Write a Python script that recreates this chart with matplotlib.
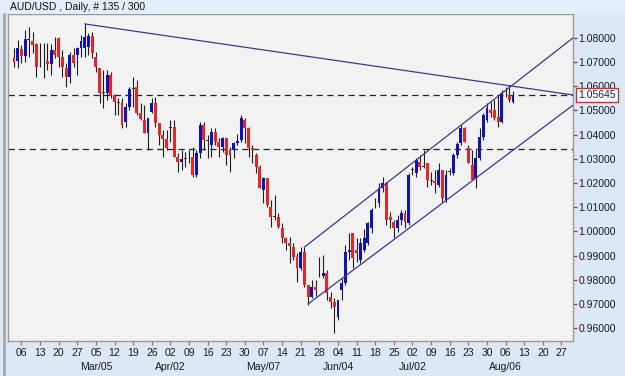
import matplotlib
matplotlib.use('Agg')
import matplotlib.pyplot as plt
import matplotlib.transforms as mtransforms
from matplotlib.lines import Line2D
from matplotlib.patches import Rectangle
import pandas as pd

plt.rcParams['font.family'] = ['Liberation Sans', 'DejaVu Sans']

chart_title = "AUD/USD , Daily, # 135 / 300"
first_day = "2012-02-02"
n_future = 16  # empty bars on the right

# daily OHLC
opens = [1.0721, 1.0705, 1.0754, 1.0726, 1.0796, 1.0788, 1.0775, 1.0709, 1.0701, 1.0705,
         1.0692, 1.0750, 1.0800, 1.0721, 1.0676, 1.0639, 1.0730, 1.0730, 1.0759, 1.0759,
         1.0763, 1.0808, 1.0721, 1.0676, 1.0572, 1.0572, 1.0647, 1.0564, 1.0535, 1.0535,
         1.0452, 1.0515, 1.0589, 1.0597, 1.0490, 1.0461, 1.0407, 1.0494, 1.0531, 1.0448,
         1.0399, 1.0382, 1.0428, 1.0432, 1.0308, 1.0287, 1.0299, 1.0304, 1.0308, 1.0233,
         1.0324, 1.0440, 1.0378, 1.0357, 1.0411, 1.0370, 1.0349, 1.0386, 1.0337, 1.0337,
         1.0366, 1.0378, 1.0461, 1.0428, 1.0345, 1.0316, 1.0266, 1.0171, 1.0221, 1.0101,
         1.0059, 1.0059, 1.0014, 0.9972, 0.9952, 0.9935, 0.9894, 0.9848, 0.9915, 0.9778,
         0.9729, 0.9770, 0.9820, 0.9815, 0.9828, 0.9729, 0.9708, 0.9646, 0.9757, 0.9786,
         0.9915, 0.9993, 0.9923, 0.9882, 0.9923, 0.9952, 1.0014, 1.0117, 1.0117, 1.0179,
         1.0200, 1.0059, 1.0039, 1.0014, 1.0047, 1.0076, 1.0035, 1.0254, 1.0242, 1.0287,
         1.0266, 1.0283, 1.0213, 1.0208, 1.0192, 1.0254, 1.0130, 1.0246, 1.0242, 1.0316,
         1.0366, 1.0428, 1.0345, 1.0275, 1.0221, 1.0304, 1.0390, 1.0461, 1.0502, 1.0502,
         1.0473, 1.0452, 1.0572, 1.0564, 1.0535]
highs = [1.0759, 1.0792, 1.0771, 1.0833, 1.0846, 1.0825, 1.0779, 1.0779, 1.0779, 1.0779,
         1.0775, 1.0804, 1.0804, 1.0750, 1.0697, 1.0742, 1.0759, 1.0763, 1.0812, 1.0858,
         1.0821, 1.0825, 1.0742, 1.0676, 1.0668, 1.0668, 1.0659, 1.0568, 1.0552, 1.0552,
         1.0531, 1.0597, 1.0639, 1.0626, 1.0531, 1.0523, 1.0469, 1.0552, 1.0556, 1.0448,
         1.0419, 1.0419, 1.0461, 1.0461, 1.0324, 1.0337, 1.0328, 1.0337, 1.0349, 1.0337,
         1.0452, 1.0452, 1.0399, 1.0428, 1.0428, 1.0386, 1.0390, 1.0386, 1.0349, 1.0370,
         1.0403, 1.0481, 1.0469, 1.0432, 1.0357, 1.0324, 1.0275, 1.0225, 1.0221, 1.0130,
         1.0150, 1.0076, 1.0035, 0.9977, 0.9977, 0.9952, 0.9911, 0.9935, 0.9935, 0.9778,
         0.9799, 0.9799, 0.9894, 0.9902, 0.9840, 0.9749, 0.9724, 0.9716, 0.9807, 0.9944,
         0.9993, 0.9993, 0.9972, 0.9972, 1.0010, 1.0039, 1.0097, 1.0138, 1.0200, 1.0225,
         1.0204, 1.0080, 1.0047, 1.0068, 1.0088, 1.0088, 1.0242, 1.0266, 1.0304, 1.0316,
         1.0337, 1.0283, 1.0246, 1.0254, 1.0283, 1.0254, 1.0254, 1.0262, 1.0324, 1.0370,
         1.0440, 1.0432, 1.0357, 1.0337, 1.0337, 1.0428, 1.0490, 1.0531, 1.0535, 1.0544,
         1.0564, 1.0585, 1.0597, 1.0606, 1.0581]
lows = [1.0680, 1.0676, 1.0697, 1.0701, 1.0721, 1.0738, 1.0639, 1.0680, 1.0635, 1.0668,
        1.0647, 1.0717, 1.0680, 1.0639, 1.0597, 1.0614, 1.0680, 1.0647, 1.0721, 1.0721,
        1.0730, 1.0717, 1.0659, 1.0531, 1.0510, 1.0544, 1.0552, 1.0481, 1.0481, 1.0428,
        1.0432, 1.0502, 1.0515, 1.0481, 1.0461, 1.0407, 1.0337, 1.0490, 1.0432, 1.0357,
        1.0308, 1.0337, 1.0370, 1.0308, 1.0246, 1.0254, 1.0266, 1.0283, 1.0225, 1.0225,
        1.0304, 1.0337, 1.0304, 1.0308, 1.0357, 1.0308, 1.0328, 1.0275, 1.0246, 1.0304,
        1.0357, 1.0370, 1.0366, 1.0308, 1.0283, 1.0242, 1.0179, 1.0117, 1.0101, 1.0018,
        1.0047, 1.0014, 0.9952, 0.9923, 0.9869, 0.9882, 0.9791, 0.9840, 0.9770, 0.9695,
        0.9724, 0.9733, 0.9811, 0.9807, 0.9716, 0.9683, 0.9580, 0.9633, 0.9716, 0.9778,
        0.9882, 0.9848, 0.9873, 0.9869, 0.9915, 0.9944, 0.9993, 1.0097, 1.0101, 1.0163,
        1.0026, 1.0014, 0.9972, 0.9997, 1.0026, 1.0014, 1.0026, 1.0233, 1.0225, 1.0254,
        1.0262, 1.0184, 1.0192, 1.0159, 1.0184, 1.0122, 1.0122, 1.0233, 1.0233, 1.0304,
        1.0357, 1.0370, 1.0283, 1.0213, 1.0179, 1.0295, 1.0378, 1.0452, 1.0473, 1.0461,
        1.0432, 1.0448, 1.0556, 1.0535, 1.0531]
closes = [1.0701, 1.0759, 1.0726, 1.0796, 1.0792, 1.0771, 1.0680, 1.0707, 1.0699, 1.0692,
          1.0750, 1.0730, 1.0721, 1.0680, 1.0639, 1.0730, 1.0697, 1.0759, 1.0788, 1.0804,
          1.0808, 1.0738, 1.0680, 1.0572, 1.0577, 1.0647, 1.0564, 1.0535, 1.0531, 1.0440,
          1.0515, 1.0589, 1.0593, 1.0490, 1.0465, 1.0407, 1.0469, 1.0531, 1.0448, 1.0399,
          1.0382, 1.0345, 1.0432, 1.0308, 1.0287, 1.0299, 1.0302, 1.0303, 1.0233, 1.0324,
          1.0440, 1.0378, 1.0374, 1.0411, 1.0370, 1.0349, 1.0386, 1.0316, 1.0316, 1.0366,
          1.0374, 1.0469, 1.0428, 1.0345, 1.0337, 1.0266, 1.0179, 1.0221, 1.0109, 1.0059,
          1.0064, 1.0018, 0.9972, 0.9952, 0.9939, 0.9894, 0.9848, 0.9915, 0.9778, 0.9729,
          0.9770, 0.9757, 0.9818, 0.9828, 0.9745, 0.9708, 0.9687, 0.9716, 0.9786, 0.9915,
          0.9923, 0.9890, 0.9911, 0.9952, 0.9972, 1.0035, 1.0088, 1.0119, 1.0179, 1.0200,
          1.0047, 1.0047, 1.0014, 1.0047, 1.0076, 1.0039, 1.0233, 1.0256, 1.0295, 1.0266,
          1.0272, 1.0213, 1.0210, 1.0200, 1.0254, 1.0138, 1.0233, 1.0248, 1.0316, 1.0361,
          1.0428, 1.0370, 1.0283, 1.0213, 1.0304, 1.0390, 1.0481, 1.0510, 1.0490, 1.0469,
          1.0452, 1.0572, 1.0574, 1.0544, 1.05645]

price_ticks = [0.96, 0.97, 0.98, 0.99, 1.00, 1.01, 1.02, 1.03, 1.04, 1.05, 1.06, 1.07, 1.08]
level_lines = [1.05645, 1.0340]
last_price = "1.05645"

# drawn trend lines, (bar index, price)
resistance_line = [(19, 1.0858), (150.1, 1.0564)]
channel_top = [(78, 0.9935), (150.1, 1.0800)]
channel_bottom = [(79, 0.9700), (150.1, 1.0522)]

W, H = 625, 376
fig = plt.figure(figsize=(W / 100, H / 100), dpi=100, facecolor='#dce8f5')
ax = fig.add_axes([8 / W, 35 / H, 565 / W, 327 / H], facecolor='#f2f2f2')

# header strip + left border
fig.patches.append(Rectangle((0, 1 - 14 / H), 1, 14 / H, transform=fig.transFigure,
                             facecolor='#e4eef9', edgecolor='none', zorder=0))
fig.lines.append(Line2D([4 / W, 4 / W], [0, 1 - 14 / H], transform=fig.transFigure,
                        color='#a8a8a8', lw=2))
fig.text(10 / W, 1 - 7 / H, chart_title, fontsize=7.5, va='center', ha='left', color='#111111')

n = len(closes)
idx = list(range(n))

# wicks
ax.vlines(idx, lows, highs, color='#1e1e1e', lw=0.8, zorder=3)

# bodies
for i in idx:
    o, c = opens[i], closes[i]
    if abs(c - o) < 0.00065:
        col = '#333333'
        h = max(abs(c - o), 0.00018)
    elif c > o:
        col = '#1212b4'
        h = c - o
    else:
        col = '#e02828'
        h = o - c
    ax.bar(i, h, bottom=min(o, c), width=0.78, color=col, lw=0, zorder=4)

# horizontal levels
for lv in level_lines:
    ax.axhline(lv, color='#222222', lw=0.9, ls=(0, (5, 3.5)), zorder=2)

# trend lines and channel
for pts in (resistance_line, channel_top, channel_bottom):
    ax.plot([pts[0][0], pts[1][0]], [pts[0][1], pts[1][1]], color='#3a3a8a', lw=0.9, zorder=5)

ax.set_xlim(-1.6, 150.1)
ax.set_ylim(0.95464, 1.0899)

# y axis on the right
ax.yaxis.tick_right()
ax.set_yticks(price_ticks)
ax.set_yticklabels(['%.5f' % p for p in price_ticks])
ax.tick_params(axis='y', length=3, width=1, color='#c03030', pad=1,
               labelsize=7.5, labelcolor='#1a1a2a')

# x axis: every Monday, month names below
days = pd.bdate_range(first_day, periods=n + n_future)
mondays = [i for i, d in enumerate(days) if d.weekday() == 0]
ax.set_xticks(mondays)
ax.set_xticklabels(['%02d' % days[i].day for i in mondays])
ax.tick_params(axis='x', length=3, width=1, color='#d06060', pad=2,
               labelsize=7.5, labelcolor='#1a1a1a')

trans = mtransforms.blended_transform_factory(ax.transData, ax.transAxes)
for i in mondays:
    d = days[i]
    if d.day <= 7 and d.month > 2:
        ax.text(i, -26 / 327, d.strftime('%b/%d'), transform=trans, ha='center', va='center',
                fontsize=7.5, color='#1a1a1a', clip_on=False)

for s in ax.spines.values():
    s.set_color('#9a9a9a')
    s.set_linewidth(1)

# last price box
ytrans = mtransforms.blended_transform_factory(ax.transAxes, ax.transData)
ax.text(1.0095, level_lines[0], last_price, transform=ytrans, ha='left', va='center',
        fontsize=7.5, color='#1a1a50', zorder=10, clip_on=False,
        bbox=dict(boxstyle='square,pad=0.22', fc='white', ec='#b03a3a', lw=1))

fig.savefig('out.png', dpi=100, facecolor=fig.get_facecolor())
